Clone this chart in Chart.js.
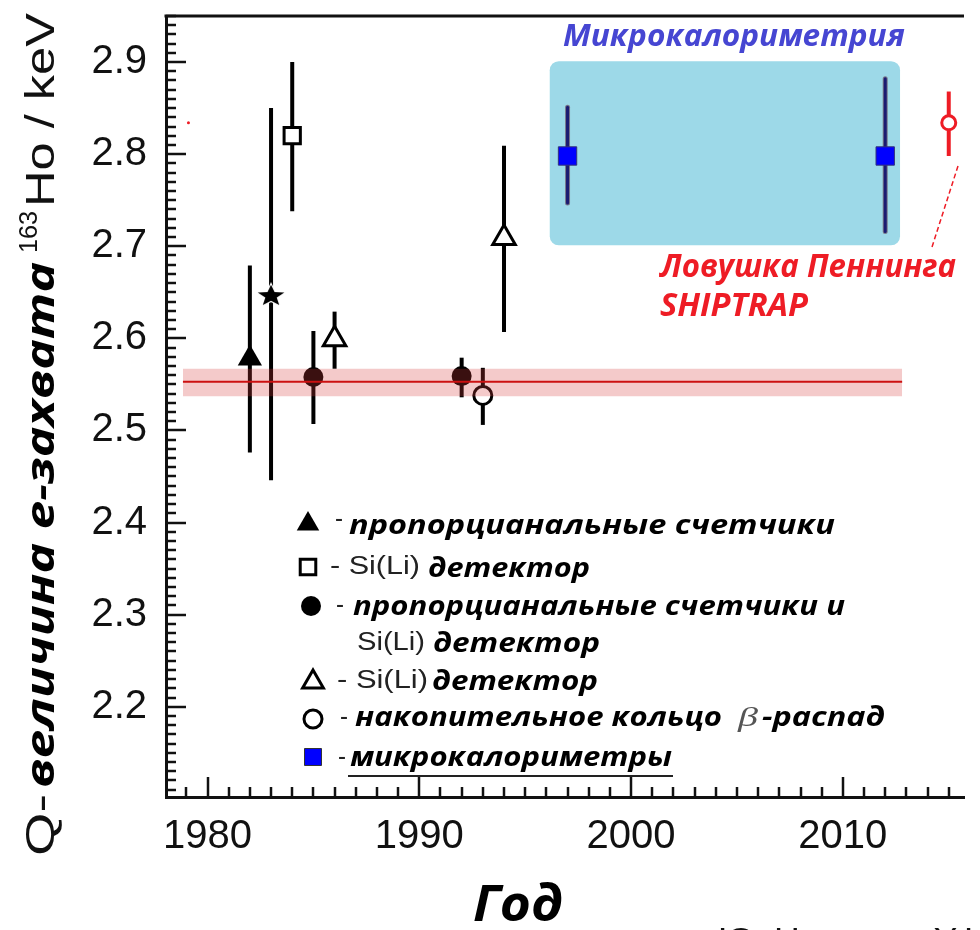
<!DOCTYPE html>
<html>
<head>
<meta charset="utf-8">
<script src="https://cdn.jsdelivr.net/npm/chart.js@4.4.0/dist/chart.umd.min.js"></script>
<style>
    html, body { margin: 0; padding: 0; background: #fff; }
</style>
</head>
<body>
<canvas id="chartCanvas" width="980" height="930"></canvas>
<script>
// ---- values ----
// ▲ пропорциональные счетчики
const propYear = [1982];
const propQ = [2.578];
const propLo = [2.476];
const propHi = [2.679];

// ★ (not in the legend)
const starYear = [1983];
const starQ = [2.647];
const starLo = [2.446];
const starHi = [2.850];

// □ Si(Li) детектор
const sqYear = [1984];
const sqQ = [2.820];
const sqLo = [2.738];
const sqHi = [2.900];

// ● пропорциональные счетчики и Si(Li) детектор
const dotYear = [1985, 1992];
const dotQ = [2.558, 2.559];
const dotLo = [2.507, 2.536];
const dotHi = [2.608, 2.579];

// △ Si(Li) детектор
const triYear = [1986, 1994];
const triQ = [2.599, 2.709];
const triLo = [2.567, 2.607];
const triHi = [2.629, 2.809];

// ○ накопительное кольцо, β-распад
const ringYear = [1993];
const ringQ = [2.538];
const ringLo = [2.506];
const ringHi = [2.568];

// ■ микрокалориметры
const mcYear = [1997, 2012];
const mcQ = [2.798, 2.798];
const mcLo = [2.747, 2.716];
const mcHi = [2.851, 2.882];

// SHIPTRAP
const trapYear = [2015];
const trapQ = [2.834];
const trapLo = [2.798];
const trapHi = [2.868];

// stray red dot at the left
const strayYear = [1979.1];
const strayQ = [2.834];

// weighted mean and its band
const meanYears = [1978.84, 2012.8];
const meanQ = [2.553];
const meanBand = [2.537, 2.567];

// microcalorimetry box
const boxYears = [1996.16, 2012.7];
const boxQ = [2.701, 2.901];

// axes
const yearMin = 1978.04, yearMax = 2015.72;
const qMin = 2.102, qMax = 2.95;
const yearLabels = [1980, 1990, 2000, 2010];
const qLabels = [2.2, 2.3, 2.4, 2.5, 2.6, 2.7, 2.8, 2.9];

const regFont = '"Liberation Sans", Arial, sans-serif';
const biFont = '"Open Sans", "DejaVu Sans", sans-serif';

const pts = (xs, ys) => xs.map((x, i) => ({ x: x, y: ys[i] }));
const flat = (xs, v) => xs.map(x => ({ x: x, y: v }));

// star marker as an image
function makeStar() {
    const c = document.createElement('canvas');
    c.width = 32; c.height = 26;
    const g = c.getContext('2d');
    g.translate(16, 14);
    g.scale(1, 0.8);
    g.beginPath();
    for (let i = 0; i < 10; i++) {
        const r = i % 2 === 0 ? 14 : 6;
        const a = -Math.PI / 2 + i * Math.PI / 5;
        g.lineTo(Math.cos(a) * r, Math.sin(a) * r);
    }
    g.closePath();
    g.lineWidth = 2.5;
    g.strokeStyle = '#fff';
    g.stroke();
    g.fillStyle = '#000';
    g.fill();
    return c;
}
const starImg = makeStar();

// Draw text stretched to a given width
function fitText(ctx, text, x, y, w, font, color) {
    ctx.save();
    ctx.font = font;
    ctx.fillStyle = color;
    const m = ctx.measureText(text).width;
    ctx.translate(x, y);
    ctx.scale(w / m, 1);
    ctx.fillText(text, 0, 0);
    ctx.restore();
}

// Error bars + blue box, under the markers
const underlay = {
    id: 'underlay',
    beforeDatasetsDraw(chart) {
        const ctx = chart.ctx;
        const xs = chart.scales.x, ys = chart.scales.y;
        ctx.save();
        // microcalorimetry box
        const bx = xs.getPixelForValue(boxYears[0]);
        const bx2 = xs.getPixelForValue(boxYears[1]);
        const by = ys.getPixelForValue(boxQ[1]);
        const by2 = ys.getPixelForValue(boxQ[0]);
        ctx.fillStyle = '#9dd9e8';
        ctx.beginPath();
        ctx.roundRect(bx, by, bx2 - bx, by2 - by, 9);
        ctx.fill();

        chart.data.datasets.forEach(ds => {
            if (!ds.errLo) return;
            ds.data.forEach((p, i) => {
                const x = xs.getPixelForValue(p.x);
                const y1 = ys.getPixelForValue(ds.errLo[i]);
                const y2 = ys.getPixelForValue(ds.errHi[i]);
                if (ds.errOutline) {
                    ctx.strokeStyle = ds.errOutline;
                    ctx.lineWidth = ds.errWidth + 2;
                    ctx.lineCap = 'round';
                    ctx.beginPath(); ctx.moveTo(x, y1); ctx.lineTo(x, y2); ctx.stroke();
                }
                ctx.strokeStyle = ds.errColor;
                ctx.lineWidth = ds.errWidth;
                ctx.lineCap = ds.errOutline ? 'round' : 'butt';
                ctx.beginPath(); ctx.moveTo(x, y1); ctx.lineTo(x, y2); ctx.stroke();
            });
        });
        ctx.restore();
    }
};

function drawMarker(ctx, style, r, fill, stroke, bw, x, y) {
    ctx.save();
    ctx.fillStyle = fill;
    ctx.strokeStyle = stroke || fill;
    ctx.lineWidth = bw;
    Chart.helpers.drawPoint(ctx, { pointStyle: style, radius: r, rotation: 0, borderWidth: bw }, x, y);
    ctx.restore();
}

// ticks, frame, titles, legend, annotations
const overlay = {
    id: 'overlay',
    afterDraw(chart) {
        const ctx = chart.ctx;
        const xs = chart.scales.x, ys = chart.scales.y;
        const a = chart.chartArea;
        ctx.save();
        ctx.strokeStyle = '#111';
        ctx.lineWidth = 2.5;
        ys.ticks.forEach(t => {
            const y = Math.round(ys.getPixelForValue(t.value));
            const len = t.label ? 20 : 10;
            ctx.beginPath(); ctx.moveTo(a.left, y); ctx.lineTo(a.left + len, y); ctx.stroke();
        });
        xs.ticks.forEach(t => {
            const x = Math.round(xs.getPixelForValue(t.value));
            const len = t.label ? 20 : 10;
            ctx.beginPath(); ctx.moveTo(x, a.bottom); ctx.lineTo(x, a.bottom - len); ctx.stroke();
        });
        // top frame line
        ctx.lineWidth = 3;
        ctx.beginPath(); ctx.moveTo(a.left - 1.5, a.top); ctx.lineTo(a.right, a.top); ctx.stroke();

        // y axis title
        ctx.save();
        ctx.translate(54, 856);
        ctx.rotate(-Math.PI / 2);
        ctx.textBaseline = 'alphabetic';
        fitText(ctx, 'Q-', 0, 0, 62, '40px ' + regFont, '#111');
        fitText(ctx, 'величина e-захвата', 68, 0, 526, 'italic bold 40px ' + biFont, '#000');
        fitText(ctx, '163', 603, -17, 42, '26px ' + regFont, '#111');
        fitText(ctx, 'Ho / keV', 649, 0, 194, '40px ' + regFont, '#111');
        ctx.restore();

        // x axis title and source
        ctx.textBaseline = 'alphabetic';
        fitText(ctx, 'Год', 473, 921, 90, 'italic bold 50px ' + biFont, '#000');
        fitText(ctx, 'Ю. Новиков, УФН', 718, 948, 290, '30px ' + regFont, '#111');

        // labels on the plot
        fitText(ctx, 'Микрокалориметрия', 563, 46, 342, 'italic bold 30px ' + biFont, '#4646d2');
        fitText(ctx, 'Ловушка Пеннинга', 660, 277, 296, 'italic bold 32px ' + biFont, '#ee1c25');
        fitText(ctx, 'SHIPTRAP', 660, 316, 148, 'italic bold 32px ' + biFont, '#ee1c25');

        // dashed pointer to the SHIPTRAP point
        ctx.strokeStyle = '#ee1c25';
        ctx.lineWidth = 1.5;
        ctx.setLineDash([5, 3]);
        ctx.beginPath(); ctx.moveTo(958, 166); ctx.lineTo(932, 247); ctx.stroke();
        ctx.setLineDash([]);

        // legend
        const bi = 'italic bold 26px ' + biFont;
        const rg = '26px ' + regFont;
        ctx.textBaseline = 'middle';
        drawMarker(ctx, 'triangle', 13, '#000', null, 0, 308, 524);
        fitText(ctx, '-', 335, 520, 8, rg, '#222');
        fitText(ctx, 'пропорцианальные счетчики', 349, 527, 486, bi, '#000');

        drawMarker(ctx, 'rect', 11, '#fff', '#000', 3, 308, 567);
        fitText(ctx, '- Si(Li)', 330, 567, 90, rg, '#222');
        fitText(ctx, 'детектор', 428, 570, 162, bi, '#000');

        drawMarker(ctx, 'circle', 10, '#000', null, 0, 311, 606);
        fitText(ctx, '-', 336, 606, 8, rg, '#222');
        fitText(ctx, 'пропорцианальные счетчики и', 353, 608, 492, bi, '#000');

        fitText(ctx, 'Si(Li)', 357, 643, 68, rg, '#222');
        fitText(ctx, 'детектор', 433, 645, 167, bi, '#000');

        drawMarker(ctx, 'triangle', 12, '#fff', '#000', 3, 313, 682);
        fitText(ctx, '- Si(Li)', 337, 681, 91, rg, '#222');
        fitText(ctx, 'детектор', 432, 683, 166, bi, '#000');

        drawMarker(ctx, 'circle', 9, '#fff', '#000', 3, 313, 719);
        fitText(ctx, '-', 340, 718, 8, rg, '#222');
        fitText(ctx, 'накопительное кольцо', 355, 719, 367, bi, '#000');
        fitText(ctx, 'β', 738, 719, 20, 'italic 28px "Liberation Serif", serif', '#555');
        fitText(ctx, '-распад', 762, 719, 123, bi, '#000');

        drawMarker(ctx, 'rect', 12, '#0000ff', '#333', 1, 313, 757);
        fitText(ctx, '-', 338, 758, 8, rg, '#222');
        fitText(ctx, 'микрокалориметры', 350, 759, 322, bi, '#000');
        ctx.strokeStyle = '#222';
        ctx.lineWidth = 2;
        ctx.beginPath(); ctx.moveTo(348, 776); ctx.lineTo(673, 776); ctx.stroke();
        ctx.restore();
    }
};

const ctx = document.getElementById('chartCanvas').getContext('2d');

new Chart(ctx, {
    type: 'scatter',
    data: {
        datasets: [
            { data: pts(propYear, propQ), errLo: propLo, errHi: propHi, errColor: '#000', errWidth: 4,
              pointStyle: 'triangle', pointRadius: 14, backgroundColor: '#000', borderColor: '#000', borderWidth: 0, order: 1 },
            { data: pts(starYear, starQ), errLo: starLo, errHi: starHi, errColor: '#000', errWidth: 4,
              pointStyle: starImg, pointRadius: 13, order: 1 },
            { data: pts(sqYear, sqQ), errLo: sqLo, errHi: sqHi, errColor: '#000', errWidth: 4,
              pointStyle: 'rect', pointRadius: 11.5, backgroundColor: '#fff', borderColor: '#000', borderWidth: 3, order: 1 },
            { data: pts(dotYear, dotQ), errLo: dotLo, errHi: dotHi, errColor: '#000', errWidth: 4,
              pointStyle: 'circle', pointRadius: 10, backgroundColor: '#000', borderColor: '#000', borderWidth: 0, order: 1 },
            { data: pts(triYear, triQ), errLo: triLo, errHi: triHi, errColor: '#000', errWidth: 4,
              pointStyle: 'triangle', pointRadius: 13, backgroundColor: '#fff', borderColor: '#000', borderWidth: 3, order: 1 },
            { data: pts(ringYear, ringQ), errLo: ringLo, errHi: ringHi, errColor: '#000', errWidth: 4,
              pointStyle: 'circle', pointRadius: 9, backgroundColor: '#fff', borderColor: '#000', borderWidth: 3, order: 1 },
            { data: pts(mcYear, mcQ), errLo: mcLo, errHi: mcHi, errColor: '#1b1b72', errOutline: '#77778a', errWidth: 3,
              pointStyle: 'rect', pointRadius: 13, backgroundColor: '#0000ff', borderColor: '#33337a', borderWidth: 1, order: 1 },
            { data: pts(trapYear, trapQ), errLo: trapLo, errHi: trapHi, errColor: '#ee1c25', errWidth: 4,
              pointStyle: 'circle', pointRadius: 7, backgroundColor: '#fff', borderColor: '#ee1c25', borderWidth: 3, order: 1 },
            { data: pts(strayYear, strayQ), pointStyle: 'circle', pointRadius: 1.5,
              backgroundColor: '#ee1c25', borderWidth: 0, order: 1 },
            // mean band (lower edge, upper edge filled to it)
            { data: flat(meanYears, meanBand[0]), showLine: true, pointRadius: 0, borderWidth: 0,
              borderColor: 'rgba(0,0,0,0)', fill: false, order: 0 },
            { data: flat(meanYears, meanBand[1]), showLine: true, pointRadius: 0, borderWidth: 0,
              borderColor: 'rgba(0,0,0,0)', fill: '-1', backgroundColor: 'rgba(214,60,60,0.27)', order: 0 },
            { data: flat(meanYears, meanQ[0]), showLine: true, pointRadius: 0, borderWidth: 2,
              borderColor: '#cc1111', fill: false, order: -1 }
        ]
    },
    options: {
        responsive: false,
        animation: false,
        events: [],
        layout: { padding: { left: 0, right: 0, top: 12, bottom: 0 } },
        plugins: {
            legend: { display: false },
            tooltip: { enabled: false }
        },
        scales: {
            x: {
                type: 'linear',
                min: yearMin,
                max: yearMax,
                grid: { display: false, drawTicks: false },
                border: { display: true, color: '#111', width: 3 },
                ticks: {
                    stepSize: 1,
                    includeBounds: false,
                    autoSkip: false,
                    maxRotation: 0,
                    padding: 16,
                    color: '#111',
                    font: { family: regFont, size: 40 },
                    callback: v => yearLabels.some(l => Math.abs(l - v) < 1e-6) ? String(Math.round(v)) : ''
                },
                afterFit: s => { s.height = 133; s.paddingLeft = 0; s.paddingRight = 0; }
            },
            y: {
                type: 'linear',
                min: qMin,
                max: qMax,
                grid: { display: false, drawTicks: false },
                border: { display: true, color: '#111', width: 3 },
                ticks: {
                    stepSize: 0.01,
                    includeBounds: false,
                    autoSkip: false,
                    padding: 19,
                    color: '#111',
                    font: { family: regFont, size: 40 },
                    callback: v => {
                        const l = qLabels.find(q => Math.abs(q - v) < 1e-6);
                        return l !== undefined ? l.toFixed(1) : '';
                    }
                },
                afterFit: s => { s.width = 166; s.paddingTop = 0; s.paddingBottom = 0; }
            }
        }
    },
    plugins: [underlay, overlay]
});
</script>
</body>
</html>
